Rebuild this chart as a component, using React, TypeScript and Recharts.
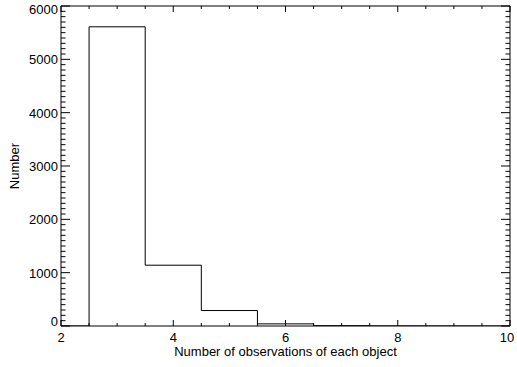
import React from "react";
import { LineChart, Line, XAxis, YAxis, Customized } from "recharts";

// histogram bins (bin centres) and counts
const binCentres = [2, 3, 4, 5, 6, 7, 8, 9, 10];
const counts = [0, 5610, 1140, 290, 40, 6, 2, 1, 0];

const xMajorTicks = [2, 4, 6, 8, 10];
const yMajorTicks = [0, 1000, 2000, 3000, 4000, 5000, 6000];
const xMinorStep = 0.5;
const yMinorStep = 100;

const data = binCentres.map((x, i) => ({ x, count: counts[i] }));

const range = (lo: number, hi: number, step: number) => {
  const out: number[] = [];
  for (let v = lo; v <= hi + 1e-9; v += step) out.push(Math.round(v * 1000) / 1000);
  return out;
};
const xTicks = range(2, 10, xMinorStep);
const yTicks = range(0, 6000, yMinorStep);

const FONT = "'Liberation Sans', Arial, Helvetica, sans-serif";
const FS = 13;
const W = 517;
const H = 367;
// plot box: x 61..510, y 6..326 (axes take part of the margin)
const M = { top: 5, right: 6, bottom: 11, left: 31 };

// IDL style: ticks point inwards, x ticks ~6px, y ticks ~9px, minors half
const XTick = (side: "bottom" | "top") => (props: any) => {
  const { x, y, payload } = props;
  const v = payload.value;
  const major = xMajorTicks.includes(v);
  const len = major ? 6 : 3;
  const dir = side === "bottom" ? -1 : 1;
  // last label is nudged left so it stays on the page
  const lx = v === 10 ? x - 3 : x;
  return (
    <g>
      <line x1={x} x2={x} y1={y} y2={y + dir * len} stroke="#000" strokeWidth={1} />
      {side === "bottom" && major && (
        <text x={lx} y={y + 16} textAnchor="middle" fontSize={FS} fontFamily={FONT} fill="#000">
          {v}
        </text>
      )}
    </g>
  );
};

const YTick = (side: "left" | "right") => (props: any) => {
  const { x, y, payload } = props;
  const v = payload.value;
  const major = yMajorTicks.includes(v);
  const len = major ? 9 : 4.5;
  const dir = side === "left" ? 1 : -1;
  return (
    <g>
      <line x1={x} x2={x + dir * len} y1={y} y2={y} stroke="#000" strokeWidth={1} />
      {side === "left" && major && (
        <text
          x={x - 3}
          y={Math.max(Math.min(y + 5, 326), 14)}
          textAnchor="end"
          fontSize={FS}
          fontFamily={FONT}
          fill="#000"
        >
          {v}
        </text>
      )}
    </g>
  );
};

const Titles = () => (
  <g fontFamily={FONT} fontSize={FS} fill="#000">
    <text x={285.5} y={356} textAnchor="middle">
      Number of observations of each object
    </text>
    <text x={19} y={166} textAnchor="middle" transform="rotate(-90 19 166)">
      Number
    </text>
  </g>
);

export default function App() {
  return (
    <div style={{ position: "absolute", left: 0, top: 0, background: "#fff" }}>
      <LineChart width={W} height={H} data={data} margin={M}>
        <XAxis
          xAxisId="b"
          dataKey="x"
          type="number"
          domain={[2, 10]}
          ticks={xTicks}
          interval={0}
          height={30}
          tickSize={0}
          tickMargin={0}
          tickLine={false}
          axisLine={{ stroke: "#000" }}
          tick={XTick("bottom")}
          allowDataOverflow
        />
        <XAxis
          xAxisId="t"
          orientation="top"
          dataKey="x"
          type="number"
          domain={[2, 10]}
          ticks={xTicks}
          interval={0}
          height={1}
          tickSize={0}
          tickMargin={0}
          tickLine={false}
          axisLine={{ stroke: "#000" }}
          tick={XTick("top")}
          allowDataOverflow
        />
        <YAxis
          yAxisId="l"
          type="number"
          domain={[0, 6000]}
          ticks={yTicks}
          interval={0}
          width={30}
          tickSize={0}
          tickMargin={0}
          tickLine={false}
          axisLine={{ stroke: "#000" }}
          tick={YTick("left")}
          allowDataOverflow
        />
        <YAxis
          yAxisId="r"
          orientation="right"
          type="number"
          domain={[0, 6000]}
          ticks={yTicks}
          interval={0}
          width={1}
          tickSize={0}
          tickMargin={0}
          tickLine={false}
          axisLine={{ stroke: "#000" }}
          tick={YTick("right")}
          allowDataOverflow
        />
        <Line
          xAxisId="b"
          yAxisId="l"
          type="step"
          dataKey="count"
          stroke="#000"
          strokeWidth={1}
          dot={false}
          activeDot={false}
          isAnimationActive={false}
        />
        <Customized component={Titles} />
      </LineChart>
    </div>
  );
}
